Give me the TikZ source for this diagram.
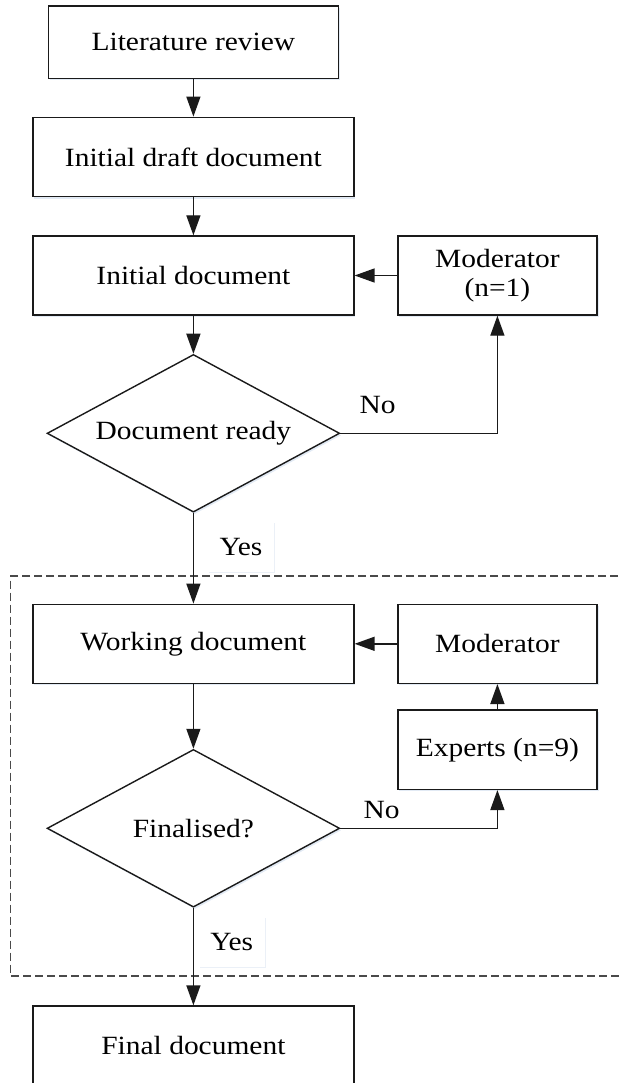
\documentclass[tikz,border=0pt]{standalone}
\usepackage{fontspec}
\setmainfont{Liberation Serif}[FakeStretch=1.12]
\usetikzlibrary{arrows.meta,shapes.geometric,shadows}

\definecolor{edge}{HTML}{1A1A1A}
\definecolor{glow}{HTML}{E2EAF4}
\definecolor{frame}{HTML}{4A4A4A}

\begin{document}
\begin{tikzpicture}[x=1pt,y=-1pt,
  every node/.style={font=\fontsize{26.3}{29}\selectfont, text=black},
  softshadow/.style={drop shadow={shadow xshift=1.5pt, shadow yshift=-2pt, fill=glow, opacity=1}},
  box/.style={draw=edge, line width=1.4pt, fill=white, inner sep=0pt, align=center, softshadow},
  decision/.style={diamond, aspect=1.855, draw=edge, line width=1.4pt, fill=white, inner sep=0pt,
    minimum width=292.6pt, minimum height=157.7pt, softshadow},
  flow/.style={draw=edge, line width=1.4pt, -{Triangle[length=20pt,width=14pt]}},
  tag/.style={fill=white, inner sep=0pt, minimum width=66pt, minimum height=50pt,
    drop shadow={shadow xshift=1pt, shadow yshift=-1pt, fill=glow!70!white, opacity=1}}
]
\useasboundingbox (0,0) rectangle (620,1083);
\clip (0,0) rectangle (620,1083);

% dashed frame around the expert review loop
\draw[frame, line width=1.3pt, dash pattern=on 8pt off 4pt]
  (630,576) -- (10.7,576) -- (10.7,976) -- (630,976);

% process steps
\node[box, minimum width=290.3pt, minimum height=72.3pt] (lit)   at (193.4,42.2)  {Literature review};
\node[box, minimum width=321pt,   minimum height=79.4pt] (draft) at (193.4,157)   {Initial draft document};
\node[box, minimum width=321pt,   minimum height=79pt]   (init)  at (193.4,275.5) {Initial document};
\node[box, minimum width=199.2pt, minimum height=79pt]   (mod1)  at (497.4,275.5) {Moderator\\(n=1)};
\node[decision] (ready) at (193.4,433.3) {Document ready};

\node[box, minimum width=321pt,   minimum height=79pt]   (work)  at (193.4,643.8) {Working document};
\node[box, minimum width=199.2pt, minimum height=79pt]   (mod2)  at (497.4,643.8) {Moderator};
\node[box, minimum width=199.2pt, minimum height=79.3pt] (exp)   at (497.4,749.7) {Experts (n=9)};
\node[decision] (fin) at (193.4,828.3) {Finalised?};
\node[box, minimum width=321pt,   minimum height=79.4pt] (final) at (193.4,1045.7) {Final document};

% branch labels
\node[tag] (yes1) at (241,546.7) {Yes};
\node[tag] (yes2) at (231.7,941.7) {Yes};
\node (no1) at (377.6,405) {No};
\node (no2) at (381.6,810) {No};

% connectors
\draw[flow] (lit) -- (draft);
\draw[flow] (draft) -- (init);
\draw[flow] (mod1) -- (init);
\draw[flow] (init) -- (ready);
\draw[flow] (ready.east) -| (mod1.south);
\draw[flow] (ready.south) -- (work.north);
\draw[flow] (mod2) -- (work);
\draw[flow] (exp) -- (mod2);
\draw[flow] (work) -- (fin);
\draw[flow] (fin.east) -| (exp.south);
\draw[flow] (fin.south) -- (final.north);
\end{tikzpicture}
\end{document}
